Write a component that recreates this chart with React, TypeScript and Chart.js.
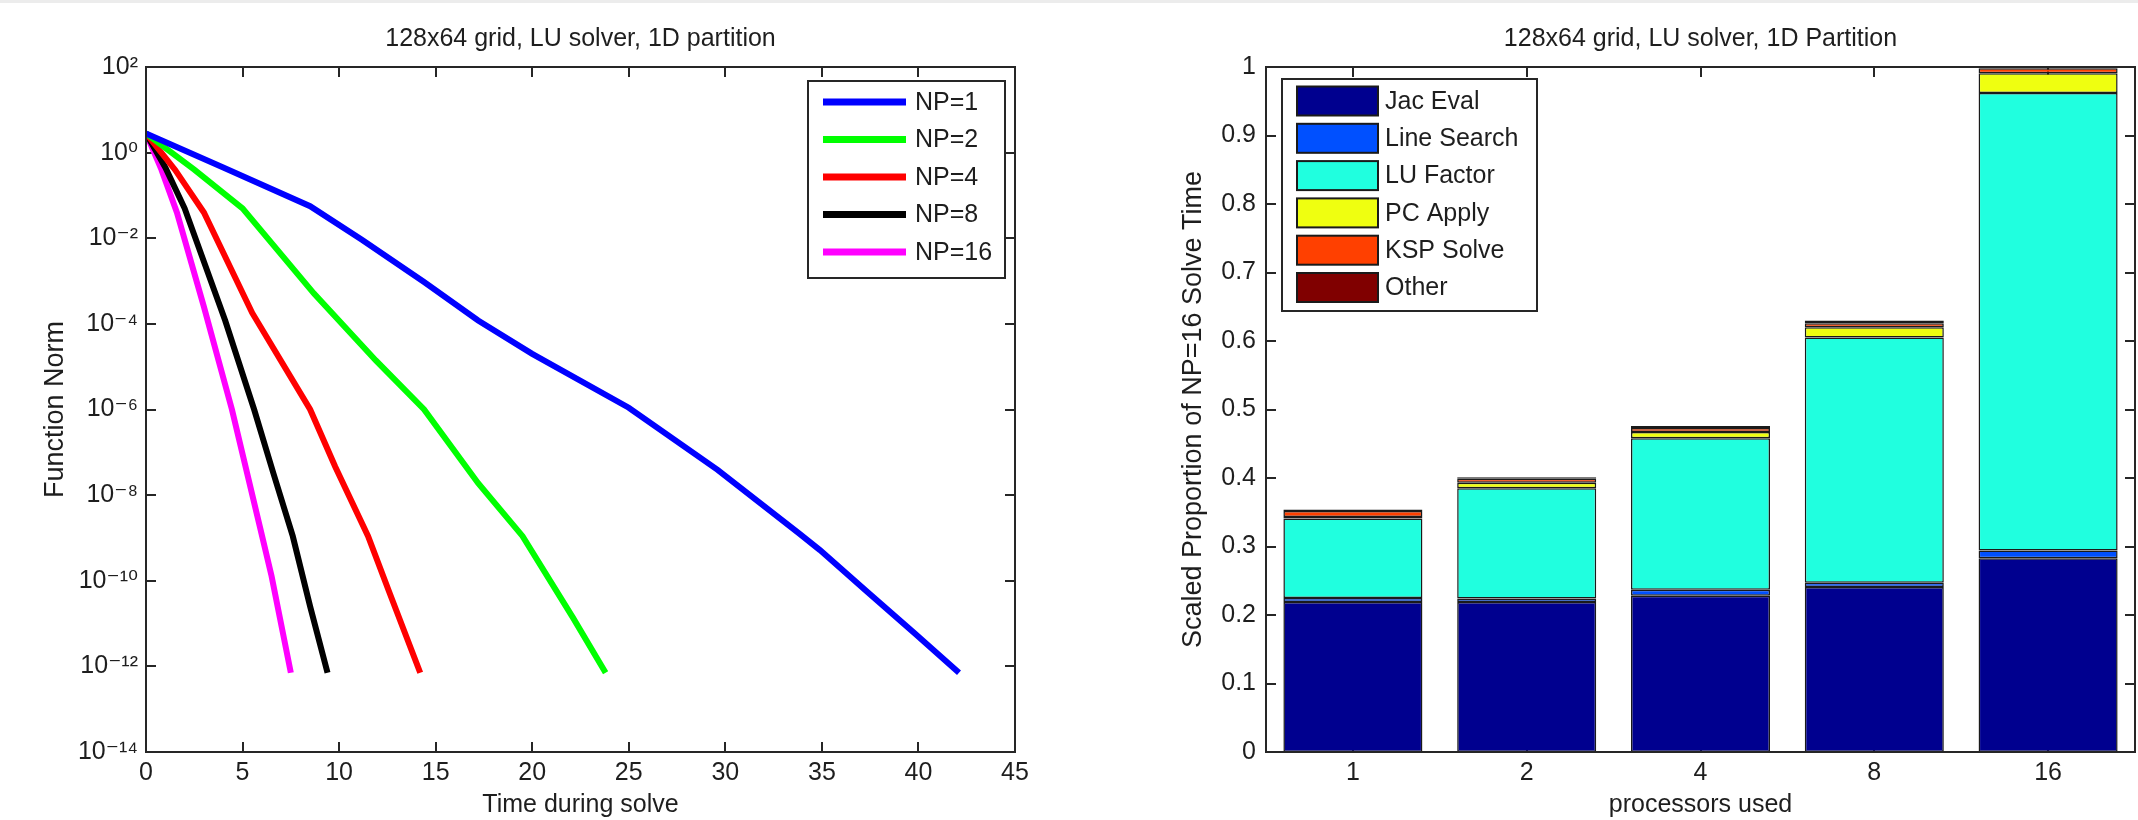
import React, { useEffect, useRef } from "react";
import { Chart, registerables } from "chart.js";

Chart.register(...registerables);

const FONT = "'Liberation Sans', Arial, Helvetica, 'DejaVu Sans', sans-serif";
const TEXT = "#1e1e1e";
const AXIS = "#262626";

// ---------- Left chart: convergence (log scale) ----------
const leftTitle = "128x64 grid, LU solver, 1D partition";
const leftXTitle = "Time during solve";
const leftYTitle = "Function Norm";
const npLabels = ["NP=1", "NP=2", "NP=4", "NP=8", "NP=16"];
const npColors = ["#0000ff", "#00ff00", "#ff0000", "#000000", "#ff00ff"];

const timeNP1 = [0, 4, 8.5, 11.2, 14.4, 17.2, 20, 25, 29.6, 33.8, 34.9, 37.3, 39.8, 42.1];
const normNP1 = [2.8, 0.45, 0.056, 9.1e-3, 9.5e-4, 1.2e-4, 2.0e-5, 1.1e-6, 3.9e-8, 1.3e-9, 5.2e-10, 5.8e-11, 5.9e-12, 7.1e-13];
const timeNP2 = [0, 2.5, 5, 8.7, 11.9, 14.4, 17.2, 19.5, 22.1, 23.8];
const normNP2 = [2.8, 0.4, 0.05, 5.1e-4, 1.4e-5, 1.0e-6, 1.9e-8, 1.1e-9, 1.4e-11, 7.1e-13];
const timeNP4 = [0, 1.5, 3, 5.5, 8.5, 9.8, 11.5, 12.6, 14.2];
const normNP4 = [2.8, 0.4, 0.04, 1.8e-4, 1.0e-6, 4.6e-8, 1.1e-9, 5.4e-11, 7.1e-13];
const timeNP8 = [0, 1, 2, 4.1, 5.6, 6.6, 7.6, 8.5, 9.4];
const normNP8 = [2.8, 0.45, 0.05, 1.2e-4, 1.0e-6, 3.2e-8, 1.1e-9, 2.5e-11, 7.1e-13];
const timeNP16 = [0, 0.8, 1.6, 3, 4.45, 5.9, 6.5, 7.5];
const normNP16 = [2.8, 0.4, 0.04, 2.5e-4, 1.0e-6, 1.8e-9, 1.3e-10, 7.1e-13];

const timeTicks = [0, 5, 10, 15, 20, 25, 30, 35, 40, 45];
const normTicks = [1e-14, 1e-12, 1e-10, 1e-8, 1e-6, 1e-4, 1e-2, 1e0, 1e2];
const normTickLabels = ["10⁻¹⁴", "10⁻¹²", "10⁻¹⁰", "10⁻⁸", "10⁻⁶", "10⁻⁴", "10⁻²", "10⁰", "10²"];

// ---------- Right chart: stacked proportion bars ----------
const rightTitle = "128x64 grid, LU solver, 1D Partition";
const rightXTitle = "processors used";
const rightYTitle = "Scaled Proportion of NP=16 Solve Time";
const procLabels = ["1", "2", "4", "8", "16"];
const phaseLabels = ["Jac Eval", "Line Search", "LU Factor", "PC Apply", "KSP Solve", "Other"];
const phaseColors = ["#00008f", "#0050ff", "#20ffdf", "#efff10", "#ff4000", "#800000"];
const jacEval = [0.219, 0.219, 0.228, 0.241, 0.283];
const lineSearch = [0.006, 0.005, 0.009, 0.006, 0.011];
const luFactor = [0.116, 0.161, 0.221, 0.358, 0.668];
const pcApply = [0.002, 0.008, 0.009, 0.015, 0.029];
const kspSolve = [0.009, 0.006, 0.006, 0.006, 0.007];
const otherTime = [0.002, 0.002, 0.003, 0.004, 0.002];
const propTicks = [0, 0.1, 0.2, 0.3, 0.4, 0.5, 0.6, 0.7, 0.8, 0.9, 1];
const propTickLabels = ["0", "0.1", "0.2", "0.3", "0.4", "0.5", "0.6", "0.7", "0.8", "0.9", "1"];

// ---------- plugins ----------
const axesTicksPlugin = {
  id: "matlabTicks",
  beforeDatasetsDraw(chart: any, _a: any, opts: any) {
    const { ctx, chartArea: a, scales } = chart;
    const xs = scales.x;
    const ys = scales.y;
    const L = opts.len ?? 10;
    ctx.save();
    ctx.strokeStyle = AXIS;
    ctx.lineWidth = 2;
    ctx.beginPath();
    xs.ticks.forEach((_t: any, i: number) => {
      const px = Math.round(xs.getPixelForTick(i));
      ctx.moveTo(px, a.top);
      ctx.lineTo(px, a.top + L);
      ctx.moveTo(px, a.bottom);
      ctx.lineTo(px, a.bottom - L);
    });
    ys.ticks.forEach((_t: any, i: number) => {
      const py = Math.round(ys.getPixelForTick(i));
      ctx.moveTo(a.left, py);
      ctx.lineTo(a.left + L, py);
      ctx.moveTo(a.right, py);
      ctx.lineTo(a.right - L, py);
    });
    ctx.stroke();
    ctx.restore();
  },
  afterDatasetsDraw(chart: any) {
    const { ctx, chartArea: a } = chart;
    ctx.save();
    ctx.strokeStyle = AXIS;
    ctx.lineWidth = 2;
    ctx.strokeRect(a.left, a.top, a.right - a.left, a.bottom - a.top);
    ctx.restore();
  },
};

const boxLegendPlugin = {
  id: "boxLegend",
  afterDraw(chart: any, _a: any, o: any) {
    const { ctx } = chart;
    ctx.save();
    ctx.fillStyle = "#ffffff";
    ctx.fillRect(o.x, o.y, o.w, o.h);
    ctx.strokeStyle = AXIS;
    ctx.lineWidth = 2;
    ctx.strokeRect(o.x, o.y, o.w, o.h);
    ctx.font = `25px ${FONT}`;
    ctx.textBaseline = "middle";
    ctx.textAlign = "left";
    chart.data.datasets.forEach((ds: any, i: number) => {
      const cy = o.rowStart + i * o.rowStep;
      if (o.kind === "line") {
        ctx.strokeStyle = ds.borderColor;
        ctx.lineWidth = 7;
        ctx.beginPath();
        ctx.moveTo(o.sampleX, cy);
        ctx.lineTo(o.sampleX + o.sampleW, cy);
        ctx.stroke();
      } else {
        ctx.fillStyle = ds.backgroundColor;
        ctx.fillRect(o.sampleX, cy - o.swatchH / 2, o.sampleW, o.swatchH);
        ctx.strokeStyle = "#1a1a1a";
        ctx.lineWidth = 2;
        ctx.strokeRect(o.sampleX, cy - o.swatchH / 2, o.sampleW, o.swatchH);
      }
      ctx.fillStyle = TEXT;
      ctx.fillText(ds.label, o.textX, cy + 1);
    });
    ctx.restore();
  },
};

const tickFont = { family: FONT, size: 25 };

function leftConfig(): any {
  const times = [timeNP1, timeNP2, timeNP4, timeNP8, timeNP16];
  const norms = [normNP1, normNP2, normNP4, normNP8, normNP16];
  return {
    type: "line",
    data: {
      datasets: npLabels.map((label, i) => ({
        label,
        data: times[i].map((t, j) => ({ x: t, y: norms[i][j] })),
        borderColor: npColors[i],
        backgroundColor: npColors[i],
        borderWidth: 6,
        pointRadius: 0,
        tension: 0,
        fill: false,
      })),
    },
    options: {
      responsive: false,
      animation: false,
      devicePixelRatio: 1,
      layout: { padding: { left: 0, right: 54, top: 0, bottom: 0 } },
      plugins: {
        legend: { display: false },
        tooltip: { enabled: false },
        title: {
          display: true,
          fullSize: false,
          text: leftTitle,
          color: TEXT,
          font: { family: FONT, size: 25, weight: "normal" },
          padding: { top: 24, bottom: 13 },
        },
        matlabTicks: { len: 10 },
        boxLegend: {
          kind: "line",
          x: 808, y: 81, w: 197, h: 197,
          rowStart: 102, rowStep: 37.5,
          sampleX: 823, sampleW: 83, textX: 915,
        },
      },
      scales: {
        x: {
          type: "linear",
          min: 0,
          max: 45,
          afterBuildTicks: (s: any) => { s.ticks = timeTicks.map((v) => ({ value: v })); },
          afterFit: (s: any) => { s.height = 68; },
          grid: { display: false, drawTicks: false },
          border: { display: false },
          ticks: { font: tickFont, color: TEXT, padding: 6, autoSkip: false, maxRotation: 0, callback: (v: any) => String(v) },
          title: { display: true, text: leftXTitle, color: TEXT, font: { family: FONT, size: 25 }, padding: { top: 0, bottom: 0 } },
        },
        y: {
          type: "logarithmic",
          min: 1e-14,
          max: 1e2,
          afterBuildTicks: (s: any) => { s.ticks = normTicks.map((v) => ({ value: v })); },
          afterFit: (s: any) => { s.width = 146; },
          grid: { display: false, drawTicks: false },
          border: { display: false },
          ticks: { font: tickFont, color: TEXT, padding: 8, autoSkip: false, callback: (_v: any, i: number) => normTickLabels[i] },
          title: { display: true, text: leftYTitle, color: TEXT, font: { family: FONT, size: 27 }, padding: { top: 39, bottom: 0 } },
        },
      },
    },
    plugins: [axesTicksPlugin, boxLegendPlugin],
  };
}

function rightConfig(): any {
  const phaseData = [jacEval, lineSearch, luFactor, pcApply, kspSolve, otherTime];
  return {
    type: "bar",
    data: {
      labels: procLabels,
      datasets: phaseLabels.map((label, i) => ({
        label,
        data: phaseData[i],
        backgroundColor: phaseColors[i],
        borderColor: "#1a1a1a",
        borderWidth: 1.5,
        borderSkipped: false,
        barPercentage: 0.8,
        categoryPercentage: 1,
      })),
    },
    options: {
      responsive: false,
      animation: false,
      devicePixelRatio: 1,
      layout: { padding: { left: 0, right: 3, top: 0, bottom: 0 } },
      plugins: {
        legend: { display: false },
        tooltip: { enabled: false },
        title: {
          display: true,
          fullSize: false,
          text: rightTitle,
          color: TEXT,
          font: { family: FONT, size: 25, weight: "normal" },
          padding: { top: 24, bottom: 13 },
        },
        matlabTicks: { len: 10 },
        boxLegend: {
          kind: "box",
          x: 213, y: 79, w: 255, h: 232,
          rowStart: 101, rowStep: 37.3,
          sampleX: 228, sampleW: 81, swatchH: 29, textX: 316,
        },
      },
      scales: {
        x: {
          stacked: true,
          afterFit: (s: any) => { s.height = 68; },
          grid: { display: false, drawTicks: false },
          border: { display: false },
          ticks: { font: tickFont, color: TEXT, padding: 6, autoSkip: false, maxRotation: 0 },
          title: { display: true, text: rightXTitle, color: TEXT, font: { family: FONT, size: 25 }, padding: { top: 0, bottom: 0 } },
        },
        y: {
          stacked: true,
          min: 0,
          max: 1,
          afterBuildTicks: (s: any) => { s.ticks = propTicks.map((v) => ({ value: v })); },
          afterFit: (s: any) => { s.width = 197; },
          grid: { display: false, drawTicks: false },
          border: { display: false },
          ticks: { font: tickFont, color: TEXT, padding: 10, autoSkip: false, callback: (_v: any, i: number) => propTickLabels[i] },
          title: { display: true, text: rightYTitle, color: TEXT, font: { family: FONT, size: 27 }, padding: { top: 108, bottom: 0 } },
        },
      },
    },
    plugins: [axesTicksPlugin, boxLegendPlugin],
  };
}

export default function App() {
  const leftRef = useRef<HTMLCanvasElement>(null);
  const rightRef = useRef<HTMLCanvasElement>(null);

  useEffect(() => {
    const left = new Chart(leftRef.current as HTMLCanvasElement, leftConfig());
    const right = new Chart(rightRef.current as HTMLCanvasElement, rightConfig());
    return () => {
      left.destroy();
      right.destroy();
    };
  }, []);

  return (
    <div style={{ position: "fixed", left: 0, top: 0, width: 2138, height: 820, background: "#ffffff", overflow: "hidden" }}>
      <div style={{ position: "absolute", left: 0, top: 0, width: 2138, height: 3, background: "#ececec" }} />
      <canvas ref={leftRef} width={1069} height={820} style={{ position: "absolute", left: 0, top: 0, width: 1069, height: 820 }} />
      <canvas ref={rightRef} width={1069} height={820} style={{ position: "absolute", left: 1069, top: 0, width: 1069, height: 820 }} />
    </div>
  );
}
